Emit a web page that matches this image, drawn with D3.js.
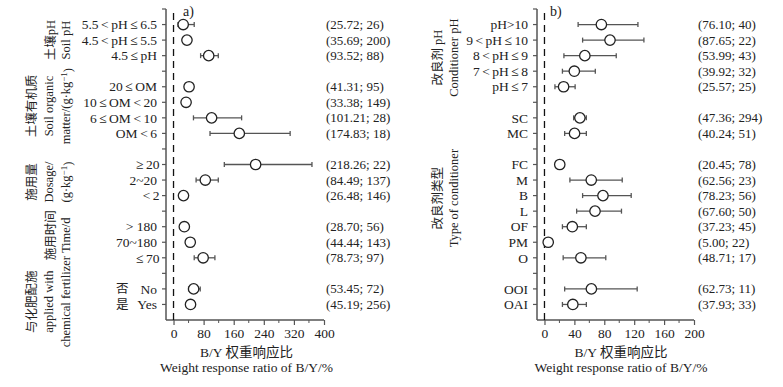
<!DOCTYPE html>
<html>
<head>
<meta charset="utf-8">
<script src="https://cdn.jsdelivr.net/npm/d3@7"></script>
<style>
  body { margin: 0; background: #fff; }
  text { font-family: "Liberation Serif", "Noto Sans CJK SC", serif; fill: #222; }
</style>
</head>
<body>
<svg width="783" height="387"></svg>
<script>
// ---- data: panel a ----
var aGroups = [
    ["5.5<pH≤6.5", "4.5<pH≤5.5", "4.5≤pH"],
    ["20≤OM", "10≤OM<20", "6≤OM<10", "OM<6"],
    ["≥20", "2~20", "<2"],
    ["> 180", "70~180", "≤70"],
    ["No", "Yes"]
];
var aPrefix = { "No": "否", "Yes": "是" };
var aTitles = [
    ["土壤pH", "Soil pH"],
    ["土壤有机质", "Soil organic", "matter/(g·kg^-1)"],
    ["施用量", "Dosage/", "(g·kg^-1)"],
    ["施用时间", "Time/d"],
    ["与化肥配施", "applied with", "chemical fertilizer"]
];
var aMean = [25.72, 35.69, 93.52, 41.31, 33.38, 101.21, 174.83, 218.26, 84.49, 26.48, 28.70, 44.44, 78.73, 53.45, 45.19];
var aN    = [26, 200, 88, 95, 149, 28, 18, 22, 137, 146, 56, 143, 97, 72, 256];
var aLow  = [12, 28, 72, 33, 26, 53, 97, 135, 60, 20, 21, 38, 55, 40, 38];
var aHigh = [55, 44, 119, 50, 41, 181, 310, 368, 119, 33, 36, 51, 110, 71, 53];
var aTicks = [0, 80, 160, 240, 320, 400];

// ---- data: panel b ----
var bGroups = [
    ["pH>10", "9<pH≤10", "8<pH≤9", "7<pH≤8", "pH≤7"],
    ["SC", "MC"],
    ["FC", "M", "B", "L", "OF", "PM", "O"],
    ["OOI", "OAI"]
];
var bTitles = [
    ["改良剂 pH", "Conditioner pH"],
    [],
    ["改良剂类型", "Type of conditioner"],
    []
];
var bMean = [76.10, 87.65, 53.99, 39.92, 25.57, 47.36, 40.24, 20.45, 62.56, 78.23, 67.60, 37.23, 5.00, 48.71, 62.73, 37.93];
var bN    = [40, 22, 43, 32, 25, 294, 51, 78, 23, 56, 50, 45, 22, 17, 11, 33];
var bLow  = [45, 51, 26, 24, 14, 39, 27, 16, 34, 51, 43, 24, 2, 25, 27, 24];
var bHigh = [125, 133, 96, 68, 41, 56, 56, 25, 104, 116, 103, 56, 8, 82, 124, 56];
var bTicks = [0, 40, 80, 120, 160, 200];

var svg = d3.select("svg");
var axisColor = "#555";
var fs = "13px";

// rows share one vertical scale: 20 slots between top and x axis
var y = d3.scaleLinear().domain([0, 20]).range([9, 320]);

// relation signs get a little air on both sides, like the original
function richLabel(text, s) {
    var pad = false;
    s.split(/([<≤≥])/).forEach(function(part) {
        if (!part) return;
        var ts = text.append("tspan").text(part);
        if (/[<≤≥]/.test(part)) { ts.attr("dx", 2.5); pad = true; }
        else if (pad) { ts.attr("dx", 2.5); pad = false; }
    });
}

function drawPanel(p) {
    var g = svg.append("g");
    var x = d3.scaleLinear().domain(p.domain).range(p.range);

    // flatten groups into rows with a blank slot between groups
    var rows = [], slot = 1, k = 0;
    var groupSpans = [];
    p.groups.forEach(function(grp) {
        var first = slot;
        grp.forEach(function(lab) {
            rows.push({ label: lab, slot: slot, mean: p.mean[k], n: p.n[k], lo: p.low[k], hi: p.high[k] });
            slot++; k++;
        });
        groupSpans.push([first, slot - 1]);
        slot++;
    });

    // y axis line + ticks
    g.append("line")
        .attr("x1", p.range[0]).attr("x2", p.range[0])
        .attr("y1", y(0)).attr("y2", y(20))
        .attr("stroke", axisColor).attr("stroke-width", 1.5);
    g.selectAll(".ytick").data(d3.range(0, 20)).enter().append("line")
        .attr("x1", p.range[0] - 4).attr("x2", p.range[0])
        .attr("y1", function(d) { return y(d); }).attr("y2", function(d) { return y(d); })
        .attr("stroke", axisColor).attr("stroke-width", 1.2);

    // x axis
    var xAxis = d3.axisBottom(x).tickValues(p.ticks).tickSize(5).tickPadding(3);
    var ax = g.append("g").attr("transform", "translate(0," + y(20) + ")").call(xAxis);
    ax.select(".domain").attr("stroke", axisColor).attr("stroke-width", 1.5)
        .attr("d", "M" + p.range[0] + ",0H" + p.range[1]);
    ax.selectAll(".tick line").attr("stroke", axisColor).attr("stroke-width", 1.2);
    ax.selectAll("text").style("font-size", "13.5px").attr("fill", "#222")
        .style("font-family", "'Liberation Serif', serif");
    var step = p.ticks[1] - p.ticks[0];
    g.selectAll(".minor").data(p.ticks.slice(1).map(function(t) { return t - step / 2; }))
        .enter().append("line")
        .attr("x1", function(d) { return x(d); }).attr("x2", function(d) { return x(d); })
        .attr("y1", y(20)).attr("y2", y(20) + 3)
        .attr("stroke", axisColor).attr("stroke-width", 1);

    // zero reference line
    g.append("line")
        .attr("x1", x(0)).attr("x2", x(0))
        .attr("y1", 13).attr("y2", y(20))
        .attr("stroke", "#111").attr("stroke-width", 1.3)
        .attr("stroke-dasharray", "7,5");

    // error bars
    var bars = g.selectAll(".bar").data(rows).enter().append("g");
    bars.append("line")
        .attr("x1", function(d) { return x(d.lo); }).attr("x2", function(d) { return x(d.hi); })
        .attr("y1", function(d) { return y(d.slot); }).attr("y2", function(d) { return y(d.slot); })
        .attr("stroke", axisColor).attr("stroke-width", 1.3);
    ["lo", "hi"].forEach(function(e) {
        bars.append("line")
            .attr("x1", function(d) { return x(d[e]); }).attr("x2", function(d) { return x(d[e]); })
            .attr("y1", function(d) { return y(d.slot) - 2.5; }).attr("y2", function(d) { return y(d.slot) + 2.5; })
            .attr("stroke", axisColor).attr("stroke-width", 1.3);
    });
    bars.append("circle")
        .attr("cx", function(d) { return x(d.mean); })
        .attr("cy", function(d) { return y(d.slot); })
        .attr("r", 5.2)
        .attr("fill", "#fff").attr("stroke", "#222").attr("stroke-width", 1.3);

    // category labels
    g.selectAll(".cat").data(rows).enter().append("text")
        .attr("x", p.range[0] - 9)
        .attr("y", function(d) { return y(d.slot); })
        .attr("dy", "0.35em")
        .attr("text-anchor", "end")
        .style("font-size", "13.5px")
        .each(function(d) { richLabel(d3.select(this), d.label); });
    if (p.prefix) {
        g.selectAll(".pre").data(rows.filter(function(d) { return p.prefix[d.label]; }))
            .enter().append("text")
            .attr("x", 116)
            .attr("y", function(d) { return y(d.slot); })
            .attr("dy", "0.35em")
            .style("font-size", "12.5px")
            .text(function(d) { return p.prefix[d.label]; });
    }

    // value annotations
    g.selectAll(".ann").data(rows).enter().append("text")
        .attr("x", p.annX)
        .attr("y", function(d) { return y(d.slot); })
        .attr("dy", "0.35em")
        .style("font-size", fs)
        .text(function(d) { return "(" + d.mean.toFixed(2) + "; " + d.n + ")"; });

    // rotated group titles
    p.titles.forEach(function(lines, i) {
        if (!lines.length) return;
        var cy = (y(groupSpans[i][0]) + y(groupSpans[i][1])) / 2 + (p.titleShift[i] || 0);
        var xs = lines.length === 3 ? p.titleX3 : p.titleX2;
        lines.forEach(function(line, j) {
            var t = g.append("text")
                .attr("transform", "translate(" + xs[j] + "," + cy + ") rotate(-90)")
                .attr("text-anchor", "middle")
                .attr("dy", "0.35em")
                .style("font-size", "12.5px");
            var parts = line.split("^");
            if (parts.length > 1) {
                t.append("tspan").text(parts[0]);
                t.append("tspan").attr("dy", "-0.4em").style("font-size", "9px")
                    .text(parts[1].replace(/\)$/, "").replace("-", "−"));
                t.append("tspan").attr("dy", "0.4em").text(")");
            } else {
                t.text(line);
            }
        });
    });

    // panel tag
    g.append("text").attr("x", p.tagX).attr("y", 16)
        .style("font-size", "14px").text(p.tag);

    // x titles
    g.append("text").attr("x", p.titleCx).attr("y", 357).attr("text-anchor", "middle")
        .style("font-size", "13.5px").text("B/Y 权重响应比");
    g.append("text").attr("x", p.titleCx).attr("y", 372).attr("text-anchor", "middle")
        .style("font-size", "13.5px").text("Weight response ratio of B/Y/%");
}

drawPanel({
    groups: aGroups, titles: aTitles, prefix: aPrefix,
    mean: aMean, n: aN, low: aLow, high: aHigh, ticks: aTicks,
    domain: [-20, 400], range: [166, 324], annX: 326,
    titleX3: [32, 49, 66], titleX2: [51, 66], titleShift: [0, -4, 2, -7, 5],
    tag: "a)", tagX: 183, titleCx: 246.5
});
drawPanel({
    groups: bGroups, titles: bTitles,
    mean: bMean, n: bN, low: bLow, high: bHigh, ticks: bTicks,
    domain: [-10, 200], range: [537, 694], annX: 698,
    titleX3: [420, 438, 455], titleX2: [438, 454], titleShift: [2, 0, -13, 0],
    tag: "b)", tagX: 550, titleCx: 621
});
</script>
</body>
</html>
